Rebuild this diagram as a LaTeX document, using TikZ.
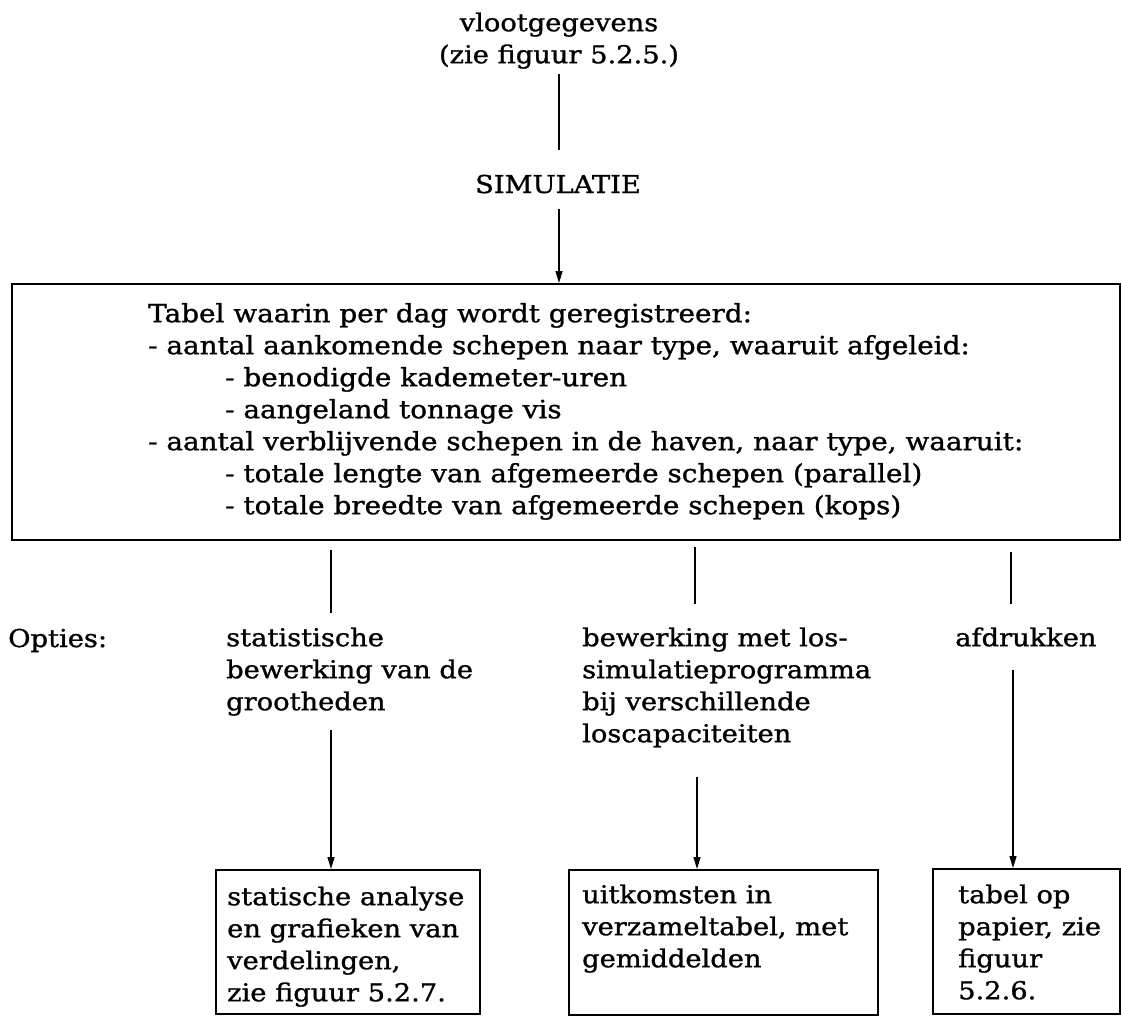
\documentclass[tikz,border=0pt]{standalone}
\usepackage{fontspec}
\setmainfont{DejaVu Serif}[FakeStretch=1.11,FakeBold=1.1]
\usetikzlibrary{arrows.meta}
\begin{document}
\begin{tikzpicture}[x=1pt,y=-1pt,
  txt/.style={inner sep=0pt, font=\fontsize{24.6}{32}\selectfont, align=left},
  conn/.style={line width=1.4pt},
  arr/.style={conn,-{Triangle[length=12pt,width=7pt]}},
  outbox/.style={draw,line width=1.8pt,inner sep=0pt}]
\useasboundingbox (0,0) rectangle (1121,1015);
\fill[white] (0,0) rectangle (1121,1015);

% input and simulation step
\node[txt,align=center,anchor=north] (src) at (559,8.6) {\strut vlootgegevens\\(zie figuur 5.2.5.)};
\node[txt,anchor=base] (sim) at (558,193) {SIMULATIE};
\draw[conn,shorten <=5pt,shorten >=25pt] (src.south) -- (src.south |- sim.north);

% daily registration table
\node[outbox,line width=2.2pt,anchor=north west,minimum width=1108pt,minimum height=256pt] (tbl) at (11,283) {};
\node[txt,font=\fontsize{25.1}{32}\selectfont,anchor=north west] (tbltxt) at (148,299.6) {\strut Tabel waarin per dag wordt geregistreerd:\\
- aantal aankomende schepen naar type, waaruit afgeleid:\\
\hspace*{77pt}- benodigde kademeter-uren\\
\hspace*{77pt}- aangeland tonnage vis\\
- aantal verblijvende schepen in de haven, naar type, waaruit:\\
\hspace*{77pt}- totale lengte van afgemeerde schepen (parallel)\\
\hspace*{77pt}- totale breedte van afgemeerde schepen (kops)};
\draw[arr,shorten <=15pt] (src.south |- sim.south) -- (src.south |- tbl.north);

% options
\node[txt,anchor=base west] (opt) at (8,647) {Opties:};
\node[txt,anchor=north west] (opt1) at (226,623.6) {\strut statistische\\bewerking van de\\grootheden};
\node[txt,anchor=north west] (opt2) at (582,623.6) {\strut bewerking met los-\\simulatieprogramma\\bij verschillende\\loscapaciteiten};
\node[txt,anchor=north west] (opt3) at (955,623.6) {\strut afdrukken};

\coordinate (x1) at (331,0);
\coordinate (x2) at (695,0);
\coordinate (x3) at (1011,0);
\draw[conn,shorten <=9pt,shorten >=11pt] (tbl.south -| x1) -- (x1 |- opt1.north);
\draw[conn,shorten <=6pt,shorten >=20pt] (tbl.south -| x2) -- (x2 |- opt2.north);
\draw[conn,shorten <=11pt,shorten >=20pt] (tbl.south -| x3) -- (x3 |- opt3.north);

% results
\node[outbox,anchor=north west,minimum width=264pt,minimum height=144pt] (res1) at (215,869) {};
\node[outbox,anchor=north west,minimum width=309pt,minimum height=145pt] (res2) at (568,869) {};
\node[outbox,anchor=north west,minimum width=187pt,minimum height=145pt] (res3) at (932,868) {};
\node[txt,anchor=north west] (res1txt) at (227,882.6) {\strut statische analyse\\en grafieken van\\verdelingen,\\zie figuur 5.2.7.};
\node[txt,anchor=north west] (res2txt) at (582,880.6) {\strut uitkomsten in\\verzameltabel, met\\gemiddelden};
\node[txt,anchor=north west] (res3txt) at (958,880.6) {\strut tabel op\\papier, zie\\figuur\\5.2.6.};

\coordinate (y1) at (0,730);
\coordinate (y2) at (0,777);
\coordinate (y3) at (0,670);
\coordinate (z2) at (697,0);
\coordinate (z3) at (1013,0);
\draw[arr] (x1 |- y1) -- (x1 |- res1.north);
\draw[arr] (z2 |- y2) -- (z2 |- res2.north);
\draw[arr] (z3 |- y3) -- (z3 |- res3.north);
\end{tikzpicture}
\end{document}
